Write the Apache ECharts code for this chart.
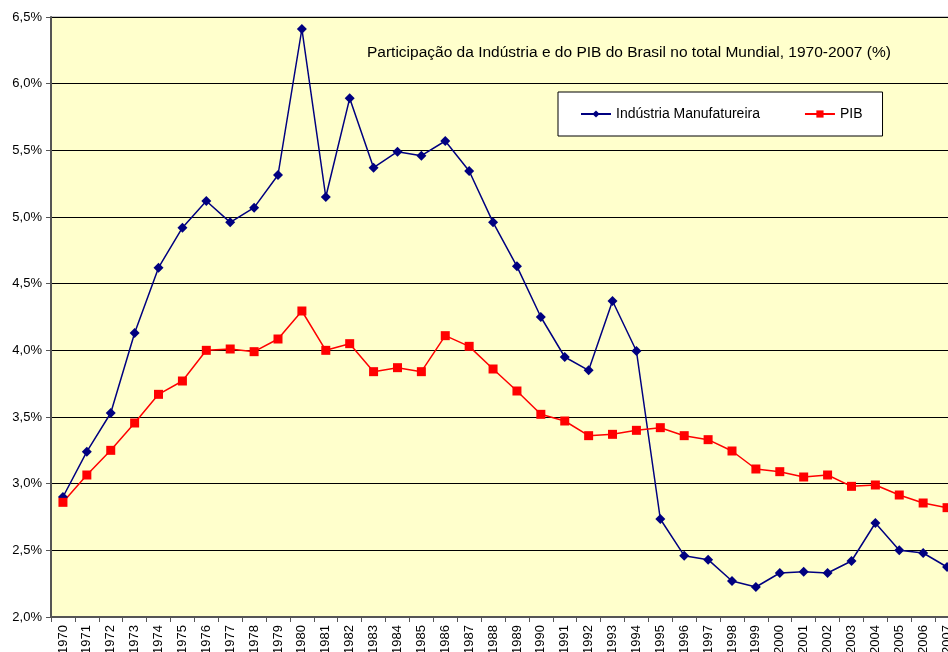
<!DOCTYPE html>
<html>
<head>
<meta charset="utf-8">
<title>Participação da Indústria e do PIB do Brasil</title>
<script src="https://cdn.jsdelivr.net/npm/echarts@6/dist/echarts.min.js"></script>
<style>
  html, body { margin: 0; padding: 0; background: #fff; }
  #main { width: 948px; height: 652px; }
</style>
</head>
<body>
<div id="main"></div>
<script>
// anos
var anos = [];
for (var a = 1970; a <= 2007; a++) anos.push(String(a));

// Indústria Manufatureira (% do total mundial)
var industria = [2.90, 3.24, 3.53, 4.13, 4.62, 4.92, 5.12, 4.96, 5.07, 5.315,
                 6.41, 5.15, 5.89, 5.37, 5.49, 5.46, 5.57, 5.345, 4.96, 4.63,
                 4.25, 3.95, 3.85, 4.37, 3.995, 2.735, 2.46, 2.43, 2.27, 2.225,
                 2.33, 2.34, 2.33, 2.42, 2.705, 2.50, 2.48, 2.375];

// PIB (% do total mundial)
var pib = [2.86, 3.065, 3.25, 3.455, 3.67, 3.77, 4.00, 4.01, 3.99, 4.085,
           4.295, 4.00, 4.05, 3.84, 3.87, 3.84, 4.11, 4.03, 3.86, 3.695,
           3.52, 3.47, 3.36, 3.37, 3.40, 3.42, 3.36, 3.33, 3.245, 3.11,
           3.09, 3.05, 3.065, 2.98, 2.99, 2.915, 2.855, 2.82];

var titulo = 'Participação da Indústria e do PIB do Brasil no total Mundial, 1970-2007 (%)';
var fonte = '"Liberation Sans", Arial, sans-serif';

var myChart = echarts.init(document.getElementById('main'));

var option = {
    animation: false,
    textStyle: { fontFamily: fonte },
    title: {
        text: titulo,
        left: 362,
        top: 40,
        textStyle: { fontSize: 15.5, fontWeight: 'normal', color: '#000', fontFamily: fonte }
    },
    legend: {
        left: 558,
        top: 92,
        padding: [15, 20, 15, 22],
        itemGap: 44,
        itemWidth: 30,
        itemHeight: 9,
        backgroundColor: '#fff',
        borderColor: '#000',
        borderWidth: 1,
        textStyle: { fontSize: 14, color: '#000', fontFamily: fonte },
        data: ['Indústria Manufatureira', 'PIB']
    },
    grid: {
        left: 51,
        top: 17,
        width: 908,
        height: 600,
        outerBoundsMode: 'none',
        show: true,
        backgroundColor: '#FFFFCC',
        borderColor: '#8c8c8c',
        borderWidth: 1
    },
    xAxis: {
        type: 'category',
        data: anos,
        boundaryGap: true,
        axisLine: { lineStyle: { color: '#555', width: 2 } },
        axisTick: { show: true, length: 5, lineStyle: { color: '#555' } },
        axisLabel: { rotate: 90, fontSize: 13, color: '#000', margin: 8, interval: 0 }
    },
    yAxis: {
        type: 'value',
        min: 2,
        max: 6.5,
        interval: 0.5,
        axisLine: { show: true, lineStyle: { color: '#555', width: 2 } },
        axisTick: { show: true, length: 5, lineStyle: { color: '#555' } },
        axisLabel: {
            fontSize: 13, color: '#000', margin: 9,
            formatter: function (v) { return v.toFixed(1).replace('.', ',') + '%'; }
        },
        splitLine: { lineStyle: { color: '#000', width: 1 } }
    },
    series: [
        {
            name: 'Indústria Manufatureira',
            type: 'line',
            data: industria,
            symbol: 'diamond',
            symbolSize: 10,
            itemStyle: { color: '#000080' },
            lineStyle: { color: '#000080', width: 1.5 }
        },
        {
            name: 'PIB',
            type: 'line',
            data: pib,
            symbol: 'rect',
            symbolSize: 9,
            itemStyle: { color: '#FF0000' },
            lineStyle: { color: '#FF0000', width: 1.5 }
        }
    ]
};

myChart.setOption(option);
</script>
</body>
</html>
